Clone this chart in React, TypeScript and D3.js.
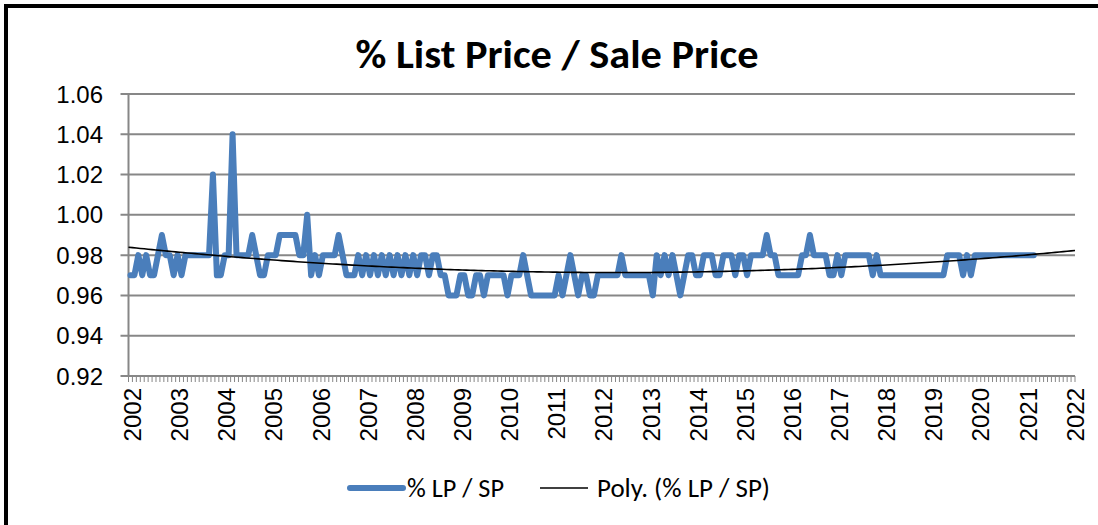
import React from 'react';
import * as d3 from 'd3';

// Monthly ratio, Jan 2002 .. Mar 2021
const lpsp2002 = [0.97, 0.97, 0.98, 0.97, 0.98, 0.97, 0.97, 0.98, 0.99, 0.98, 0.98, 0.97];
const lpsp2003 = [0.98, 0.97, 0.98, 0.98, 0.98, 0.98, 0.98, 0.98, 0.98, 1.02, 0.97, 0.97];
const lpsp2004 = [0.98, 0.98, 1.04, 0.98, 0.98, 0.98, 0.98, 0.99, 0.98, 0.97, 0.97, 0.98];
const lpsp2005 = [0.98, 0.98, 0.99, 0.99, 0.99, 0.99, 0.99, 0.98, 0.98, 1.0, 0.97, 0.98];
const lpsp2006 = [0.97, 0.98, 0.98, 0.98, 0.98, 0.99, 0.98, 0.97, 0.97, 0.97, 0.98, 0.97];
const lpsp2007 = [0.98, 0.97, 0.98, 0.97, 0.98, 0.97, 0.98, 0.97, 0.98, 0.97, 0.98, 0.97];
const lpsp2008 = [0.98, 0.97, 0.98, 0.98, 0.97, 0.98, 0.98, 0.97, 0.97, 0.96, 0.96, 0.96];
const lpsp2009 = [0.97, 0.97, 0.96, 0.96, 0.97, 0.97, 0.96, 0.97, 0.97, 0.97, 0.97, 0.97];
const lpsp2010 = [0.96, 0.97, 0.97, 0.97, 0.98, 0.97, 0.96, 0.96, 0.96, 0.96, 0.96, 0.96];
const lpsp2011 = [0.96, 0.97, 0.96, 0.97, 0.98, 0.97, 0.96, 0.97, 0.97, 0.96, 0.96, 0.97];
const lpsp2012 = [0.97, 0.97, 0.97, 0.97, 0.97, 0.98, 0.97, 0.97, 0.97, 0.97, 0.97, 0.97];
const lpsp2013 = [0.97, 0.96, 0.98, 0.97, 0.98, 0.97, 0.98, 0.97, 0.96, 0.97, 0.98, 0.98];
const lpsp2014 = [0.97, 0.97, 0.98, 0.98, 0.98, 0.97, 0.97, 0.98, 0.98, 0.98, 0.97, 0.98];
const lpsp2015 = [0.98, 0.97, 0.98, 0.98, 0.98, 0.98, 0.99, 0.98, 0.98, 0.97, 0.97, 0.97];
const lpsp2016 = [0.97, 0.97, 0.97, 0.98, 0.98, 0.99, 0.98, 0.98, 0.98, 0.98, 0.97, 0.97];
const lpsp2017 = [0.98, 0.97, 0.98, 0.98, 0.98, 0.98, 0.98, 0.98, 0.98, 0.97, 0.98, 0.97];
const lpsp2018 = [0.97, 0.97, 0.97, 0.97, 0.97, 0.97, 0.97, 0.97, 0.97, 0.97, 0.97, 0.97];
const lpsp2019 = [0.97, 0.97, 0.97, 0.97, 0.98, 0.98, 0.98, 0.98, 0.97, 0.98, 0.97, 0.98];
const lpsp2020 = [0.98, 0.98, 0.98, 0.98, 0.98, 0.98, 0.98, 0.98, 0.98, 0.98, 0.98, 0.98];
const lpsp2021 = [0.98, 0.98, 0.98];

const series = [
  ...lpsp2002, ...lpsp2003, ...lpsp2004, ...lpsp2005, ...lpsp2006, ...lpsp2007,
  ...lpsp2008, ...lpsp2009, ...lpsp2010, ...lpsp2011, ...lpsp2012, ...lpsp2013,
  ...lpsp2014, ...lpsp2015, ...lpsp2016, ...lpsp2017, ...lpsp2018, ...lpsp2019,
  ...lpsp2020, ...lpsp2021,
];

const yearLabels = ['2002', '2003', '2004', '2005', '2006', '2007', '2008', '2009', '2010', '2011', '2012',
  '2013', '2014', '2015', '2016', '2017', '2018', '2019', '2020', '2021', '2022'];
const yTicks = [0.92, 0.94, 0.96, 0.98, 1.0, 1.02, 1.04, 1.06];
const title = '% List Price / Sale Price';
const seriesName = '% LP / SP';
const trendName = 'Poly. (% LP / SP)';
const totalMonths = 241;

function quadFit(vals: number[]) {
  // least squares y = a + b t + c t^2, t = i + 1
  const S = [0, 0, 0, 0, 0];
  const T = [0, 0, 0];
  vals.forEach((v, i) => {
    const t = i + 1;
    let p = 1;
    for (let k = 0; k < 5; k++) { S[k] += p; if (k < 3) T[k] += v * p; p *= t; }
  });
  const A = [
    [S[0], S[1], S[2], T[0]],
    [S[1], S[2], S[3], T[1]],
    [S[2], S[3], S[4], T[2]],
  ];
  for (let c = 0; c < 3; c++) {
    let piv = c;
    for (let r = c + 1; r < 3; r++) if (Math.abs(A[r][c]) > Math.abs(A[piv][c])) piv = r;
    [A[c], A[piv]] = [A[piv], A[c]];
    for (let r = 0; r < 3; r++) {
      if (r === c) continue;
      const f = A[r][c] / A[c][c];
      for (let k = c; k < 4; k++) A[r][k] -= f * A[c][k];
    }
  }
  const a = A[0][3] / A[0][0], b = A[1][3] / A[1][1], c = A[2][3] / A[2][2];
  return (i: number) => { const t = i + 1; return a + b * t + c * t * t; };
}

export default function App() {
  const W = 1098, H = 525;
  const left = 128.5, right = 1075, top = 94, bottom = 376;
  const x = d3.scaleLinear().domain([0, totalMonths]).range([left, right]);
  const y = d3.scaleLinear().domain([0.92, 1.06]).range([bottom, top]);
  const px = (i: number) => x(i + 0.5);

  const line = d3.line<number>().x((_, i) => px(i)).y((d) => y(d)).curve(d3.curveLinear);
  const fit = quadFit(series);
  const trendIdx = d3.range(-0.5, totalMonths - 0.5 + 0.001, 1);
  const trendLine = d3.line<number>().x((i) => px(i)).y((i) => y(fit(i)));

  const grid = '#878787';
  const axisFont = "'Liberation Sans', Arial, sans-serif";
  const titleFont = "Carlito, Lato, 'Open Sans', sans-serif";

  return (
    <svg width={W} height={H} style={{ position: 'absolute', left: 0, top: 0, background: '#fff' }}>
      <rect x={0} y={0} width={W} height={H} fill="#fff" />
      <rect x={6} y={6} width={W + 20} height={H + 20} fill="none" stroke="#000" strokeWidth={4} />

      <text x={557} y={68} textAnchor="middle" fontFamily={titleFont} fontWeight={700} fontSize={41}
        textLength={403} lengthAdjust="spacingAndGlyphs" fill="#000">
        {title}
      </text>

      {yTicks.map((t) => (
        <g key={t}>
          {t > 0.92 && (
            <line x1={left - 8} x2={right} y1={y(t)} y2={y(t)} stroke={grid} strokeWidth={2} />
          )}
          <text x={103} y={y(t)} dy="0.36em" textAnchor="end" fontFamily={axisFont} fontSize={24} fill="#000">
            {d3.format('.2f')(t)}
          </text>
        </g>
      ))}

      {d3.range(0, totalMonths + 1).map((j) => (
        <line key={j} x1={x(j)} x2={x(j)} y1={bottom} y2={bottom + 6} stroke={grid} strokeWidth={1} />
      ))}
      <line x1={left} x2={left} y1={top} y2={bottom} stroke={grid} strokeWidth={2} />
      <line x1={left - 8} x2={right} y1={bottom} y2={bottom} stroke={grid} strokeWidth={2} />

      {yearLabels.map((lab, k) => (
        <text
          key={lab}
          transform={`translate(${px(12 * k) + 2},388) rotate(-90)`}
          dy="0.36em"
          textAnchor="end"
          fontFamily={axisFont}
          fontSize={24}
          fill="#000"
        >
          {lab}
        </text>
      ))}

      <path d={line(series) || ''} fill="none" stroke="#4A7EBB" strokeWidth={6} strokeLinejoin="round" strokeLinecap="round" />
      <path d={trendLine(trendIdx) || ''} fill="none" stroke="#000" strokeWidth={1.6} />

      <line x1={350} x2={403} y1={488} y2={488} stroke="#4A7EBB" strokeWidth={6} strokeLinecap="round" />
      <text x={407} y={497} fontFamily={titleFont} fontSize={27} textLength={97} lengthAdjust="spacingAndGlyphs" fill="#000">{seriesName}</text>
      <line x1={540} x2={588} y1={488} y2={488} stroke="#000" strokeWidth={1.6} />
      <text x={597} y={497} fontFamily={titleFont} fontSize={27} textLength={173} lengthAdjust="spacingAndGlyphs" fill="#000">{trendName}</text>
    </svg>
  );
}
